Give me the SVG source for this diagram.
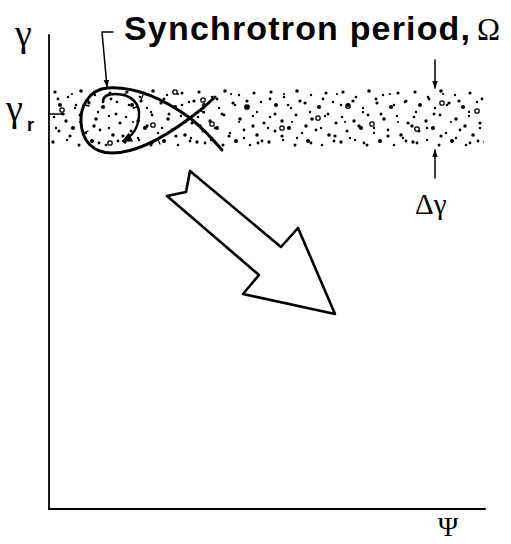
<svg xmlns="http://www.w3.org/2000/svg" width="511" height="544" viewBox="0 0 511 544">
<style>
.ln{fill:none;stroke:#000;stroke-linecap:round;stroke-linejoin:round}
.serif{font-family:"Liberation Serif","Times New Roman",serif;fill:#000}
.sans{font-family:"Liberation Sans",Arial,sans-serif;fill:#000;font-weight:bold}
.ring{fill:none;stroke:#000;stroke-width:1.3}
</style>
<defs>
<pattern id="dA" patternUnits="userSpaceOnUse" x="50" y="88" width="72" height="60">
<g fill="#000">
<circle cx="5" cy="4" r="1.6"/><circle cx="18" cy="9" r="1.3"/><circle cx="31" cy="3" r="1.8"/><circle cx="45" cy="7" r="1.2"/><circle cx="60" cy="5" r="1.5"/>
<circle cx="10" cy="17" r="2"/><circle cx="25" cy="20" r="1.2"/><circle cx="39" cy="15" r="1.6"/><circle cx="53" cy="19" r="2.1"/><circle cx="67" cy="14" r="1.3"/>
<circle cx="4" cy="29" r="1.3"/><circle cx="16" cy="33" r="1.7"/><circle cx="30" cy="27" r="1.4"/><circle cx="46" cy="31" r="1.8"/><circle cx="59" cy="28" r="1.2"/><circle cx="70" cy="35" r="1.6"/>
<circle cx="9" cy="43" r="1.5"/><circle cx="23" cy="40" r="2.1"/><circle cx="36" cy="45" r="1.2"/><circle cx="50" cy="42" r="1.4"/><circle cx="63" cy="47" r="1.8"/>
<circle cx="3" cy="54" r="1.7"/><circle cx="17" cy="52" r="1.2"/><circle cx="29" cy="57" r="1.5"/><circle cx="42" cy="53" r="2"/><circle cx="56" cy="57" r="1.3"/><circle cx="68" cy="53" r="1.4"/>
</g>
</pattern>
<pattern id="dB" patternUnits="userSpaceOnUse" x="50" y="88" width="53" height="60">
<g fill="#000">
<circle cx="8" cy="11" r="1.4"/><circle cx="22" cy="6" r="1.1"/><circle cx="38" cy="13" r="1.6"/><circle cx="48" cy="24" r="1.2"/><circle cx="13" cy="26" r="1.5"/><circle cx="30" cy="34" r="1.1"/>
<circle cx="44" cy="38" r="1.7"/><circle cx="6" cy="40" r="1.2"/><circle cx="20" cy="48" r="1.6"/><circle cx="35" cy="50" r="1.2"/><circle cx="49" cy="55" r="1.4"/><circle cx="26" cy="17" r="1.3"/>
</g>
</pattern>
<marker id="ah" viewBox="0 0 10 10" refX="9" refY="5" markerWidth="8" markerHeight="8" markerUnits="userSpaceOnUse" orient="auto">
<path d="M0,1.5 L10,5 L0,8.5 Z" fill="#000"/>
</marker>
<marker id="ahs" viewBox="0 0 10 10" refX="9" refY="5" markerWidth="10" markerHeight="10" markerUnits="userSpaceOnUse" orient="auto">
<path d="M0,0 L10,5 L0,10 Z" fill="#000"/>
</marker>
</defs>
<rect width="511" height="544" fill="#fff"/>

<g id="axes">
<line class="ln" x1="49" y1="35" x2="49" y2="509" stroke-width="1.8"/>
<line class="ln" x1="49" y1="509" x2="485" y2="509" stroke-width="2.2"/>
<line class="ln" x1="49" y1="114" x2="64" y2="114" stroke-width="1.5"/>
<text class="serif" x="15" y="46" font-size="38">γ</text>
<text class="serif" x="6" y="121" font-size="38">γ</text>
<text class="sans" x="27" y="131" font-size="18">r</text>
<text class="serif" x="448" y="536" font-size="28" text-anchor="middle">Ψ</text>
</g>

<g id="band">
<rect x="50" y="88" width="434" height="59" fill="url(#dA)"/>
<rect x="50" y="88" width="434" height="59" fill="url(#dB)"/>
<g class="ring">
<circle cx="62" cy="110" r="2.2"/><circle cx="110" cy="143" r="2.2"/><circle cx="175" cy="92" r="2.2"/><circle cx="203" cy="100" r="2.2"/><circle cx="153" cy="125" r="2.2"/>
<circle cx="212" cy="124" r="2.2"/><circle cx="247" cy="107" r="2.2"/><circle cx="282" cy="128" r="2.2"/><circle cx="318" cy="118" r="2.2"/><circle cx="348" cy="106" r="2.2"/>
<circle cx="372" cy="124" r="2.2"/><circle cx="417" cy="129" r="2.2"/><circle cx="442" cy="103" r="2.2"/><circle cx="477" cy="111" r="2.2"/>
</g>
</g>

<g id="title">
<text class="sans" x="124" y="40" font-size="34" textLength="346" lengthAdjust="spacing">Synchrotron period,</text>
<text class="serif" x="477" y="40" font-size="31">Ω</text>
</g>

<g id="orbit">
<path class="ln" stroke-width="3" d="M222,150 C210,136 200,126 190,118 C165,100 135,86 107,88 C88,90 80,108 81,122 C82,140 92,153 112,153 C140,153 170,133 190,118 C200,111 208,104 215,97"/>
<path class="ln" stroke-width="2.5" d="M103,102 C103,96 108,94 115,94 C132,94 140,104 139,116 C138,130 131,137 123,141" marker-end="url(#ahs)"/>
<g class="ln" stroke-width="1.3">
<line x1="143" y1="95" x2="141" y2="100"/><line x1="85" y1="105" x2="89" y2="106"/><line x1="84" y1="133" x2="88" y2="131"/>
<line x1="160" y1="144" x2="158" y2="140"/><line x1="137" y1="107" x2="133" y2="108"/><line x1="200" y1="110" x2="204" y2="113"/>
</g>
</g>

<g id="connectors">
<polyline class="ln" stroke-width="1.5" points="113,32 102,32 107,87" marker-end="url(#ah)"/>
<line class="ln" stroke-width="1.5" x1="435" y1="60" x2="435" y2="88" marker-end="url(#ah)"/>
<line class="ln" stroke-width="1.5" x1="435" y1="178" x2="435" y2="150" marker-end="url(#ah)"/>
</g>

<g id="delta">
<text class="serif" x="415" y="214" font-size="29">Δγ</text>
</g>

<g id="big-arrow">
<polygon class="ln" stroke-width="2.6" points="190,171 186,192 167,196 259,275 243,294 335,314 298,228 281,247"/>
</g>
</svg>
